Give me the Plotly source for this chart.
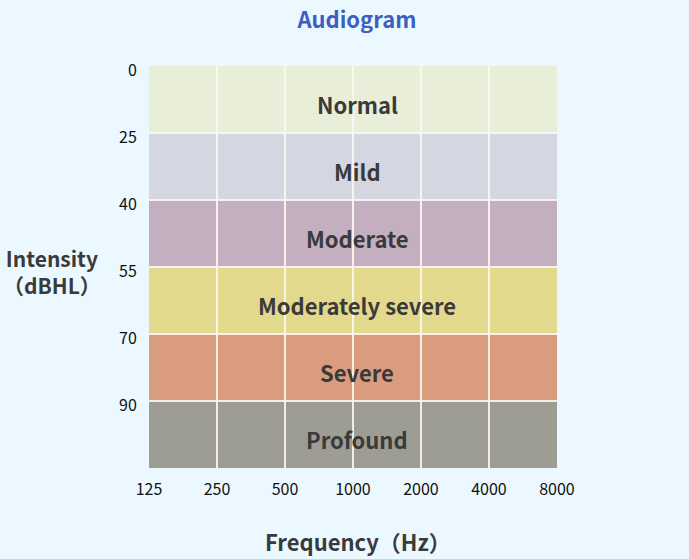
import plotly.graph_objects as go

freq_labels = ["125", "250", "500", "1000", "2000", "4000", "8000"]
db_labels = ["0", "25", "40", "55", "70", "90"]
band_names = ["Normal", "Mild", "Moderate", "Moderately severe", "Severe", "Profound"]
band_colors = ["#e8eed7", "#d4d7e2", "#c4afc0", "#e3d98c", "#d99c7f", "#9d9d94"]

FONT = "Noto Sans CJK JP, Noto Sans, sans-serif"
nx = len(freq_labels) - 1
ny = len(band_names)

fig = go.Figure()
# invisible trace to establish axes
fig.add_trace(go.Scatter(x=[0, nx], y=[0, ny], mode="markers",
                         marker=dict(opacity=0), hoverinfo="skip", showlegend=False))

shapes = []
annotations = []
for i, (name, col) in enumerate(zip(band_names, band_colors)):
    shapes.append(dict(type="rect", xref="x", yref="y", x0=0, x1=nx, y0=i, y1=i + 1,
                       fillcolor=col, line=dict(width=0), layer="below"))
    annotations.append(dict(x=nx / 2, y=i + 0.5, xref="x", yref="y", text=name,
                            showarrow=False, yshift=-4, xshift=4,
                            font=dict(family=FONT, size=22, color="#3a3a3a", weight="bold")))

annotations.append(dict(xref="paper", yref="paper", x=-0.238, y=0.49, xanchor="center", yanchor="middle",
                        text="Intensity<br>（dBHL）", showarrow=False, align="center",
                        font=dict(family=FONT, size=21, color="#3a3a3a", weight="bold")))
annotations.append(dict(xref="paper", yref="paper", x=0.5, y=-0.182, xanchor="center", yanchor="middle",
                        text="Frequency（Hz）", showarrow=False, xshift=5,
                        font=dict(family=FONT, size=22, color="#3a3a3a", weight="bold")))

fig.update_layout(
    width=689, height=559,
    margin=dict(l=149, r=132, t=66, b=91),
    paper_bgcolor="#ebf8ff", plot_bgcolor="rgba(0,0,0,0)",
    title=dict(text="Audiogram", x=0.518, xanchor="center", y=0.963, yanchor="middle",
               font=dict(family=FONT, size=22, color="#3d5fbf", weight="bold")),
    shapes=shapes, annotations=annotations,
    showlegend=False,
)
fig.update_xaxes(range=[0, nx], tickvals=list(range(nx + 1)), ticktext=freq_labels,
                 showgrid=True, gridcolor="rgba(250,247,240,0.9)", gridwidth=2,
                 zeroline=False, showline=False, ticks="outside", ticklen=7, tickcolor="rgba(0,0,0,0)",
                 automargin=False,
                 tickfont=dict(family=FONT, size=16, color="#111111"))
fig.update_yaxes(range=[ny, 0], tickvals=list(range(ny)), ticktext=db_labels,
                 showgrid=True, gridcolor="rgba(250,247,240,0.9)", gridwidth=2,
                 zeroline=False, showline=False, ticks="outside", ticklen=8, tickcolor="rgba(0,0,0,0)",
                 ticklabelshift=-4, automargin=False,
                 tickfont=dict(family=FONT, size=16, color="#111111"))

fig.write_html("out.html")
